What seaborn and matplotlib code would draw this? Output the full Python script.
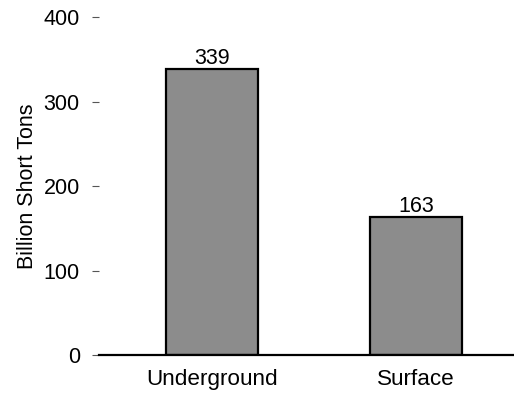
import matplotlib
matplotlib.use("Agg")
import matplotlib.pyplot as plt
import pandas as pd
import seaborn as sns

categories = ["Underground", "Surface"]
values = [339, 163]
y_ticks = [0, 100, 200, 300, 400]

sns.set_style("white")
plt.rcParams["font.family"] = ["Liberation Sans", "DejaVu Sans"]
plt.rcParams["text.color"] = "black"
plt.rcParams["axes.labelcolor"] = "black"
plt.rcParams["xtick.color"] = "black"
plt.rcParams["ytick.color"] = "black"

df = pd.DataFrame({"type": categories, "tons": values})

fig = plt.figure(figsize=(5.14, 3.99), dpi=100)
ax = fig.add_axes([0.193, 0.110, 0.807, 0.847])

sns.barplot(data=df, x="type", y="tons", color="#8c8c8c", saturation=1,
            width=0.45, edgecolor="black", linewidth=1.6, ax=ax)

for i, v in enumerate(values):
    ax.text(i, v, str(v), ha="center", va="bottom", fontsize=15.5, color="black")

ax.set_ylim(0, 400)
ax.set_xlim(-0.55, 1.48)
ax.set_yticks(y_ticks)
ax.set_xlabel("")
ax.set_ylabel("Billion Short Tons", fontsize=15.5, labelpad=4)
ax.tick_params(axis="y", length=5, width=0.8, color="#555555", labelcolor="black",
               labelsize=15.5, left=True, pad=9)
ax.tick_params(axis="x", length=0, labelsize=16.2, labelcolor="black", pad=10)

for s in ["top", "right", "left"]:
    ax.spines[s].set_visible(False)
ax.spines["bottom"].set_color("black")
ax.spines["bottom"].set_linewidth(1.6)

fig.savefig("out.png", dpi=100)
